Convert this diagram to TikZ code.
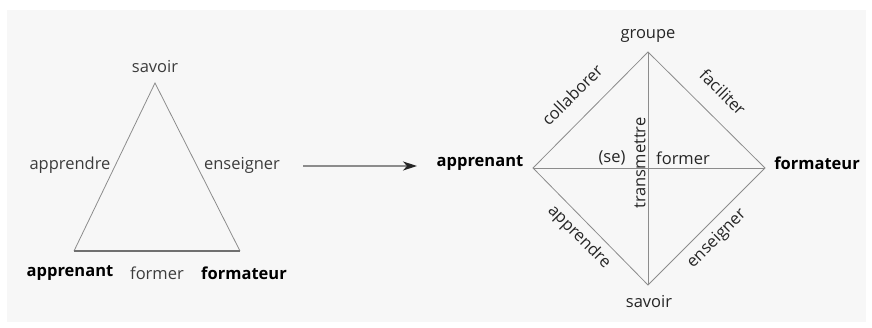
\documentclass[tikz,border=0pt]{standalone}
\usepackage{fontspec}
\setmainfont{Open Sans}
\usetikzlibrary{arrows.meta}
\definecolor{panel}{HTML}{F7F7F7}
\definecolor{edgegray}{HTML}{8C8C8C}
\definecolor{softtext}{HTML}{3C3C3C}
\tikzset{
  edge/.style={draw=edgegray, line width=0.8pt},
  lbl/.style={inner sep=0pt, font=\fontsize{16.5}{18}\selectfont, text=softtext},
  vlbl/.style={inner sep=0pt, font=\fontsize{16.5}{18}\selectfont\bfseries, text=black},
  dlbl/.style={inner sep=0pt, font=\fontsize{16.5}{18}\selectfont, text=black!85},
}
\begin{document}
\begin{tikzpicture}[x=1pt,y=1pt]
\useasboundingbox (0,0) rectangle (872,327);
\fill[panel] (7,5) rectangle (866,317);

% triangle: apprenant / savoir / formateur
\coordinate (tS) at (155,244);
\coordinate (tA) at (74,76);
\coordinate (tF) at (240,76);
\draw[edge] (tA) -- (tS) -- (tF);
\draw[edge, line width=1.3pt, draw=edgegray!80!black] (tA) -- (tF);
\node[lbl] (tsav) at (155,260) {savoir};
\node[lbl] (tapp) at (70,162) {apprendre};
\node[lbl] (tens) at (242,162) {enseigner};
\node[vlbl] (tappr) at (70,54) {apprenant};
\node[lbl] (tfor) at (157,54) {former};
\node[vlbl] (tform) at (244,54) {formateur};

% transition arrow
\coordinate (arA) at (303,161);
\coordinate (arB) at (417,161);
\draw[edge, line width=1.2pt, -{Stealth[length=14pt,width=9pt,inset=4pt,color=black!85]}] (arA) -- (arB);

% diamond: groupe / apprenant / formateur / savoir
\coordinate (dG) at (648,275);
\coordinate (dS) at (648,42);
\coordinate (dA) at (533,159);
\coordinate (dF) at (765,159);
\draw[edge] (dA) -- (dG) -- (dF) -- (dS) -- cycle;
\draw[edge] (dA) -- (dF);
\draw[edge] (dG) -- (dS);
\node[dlbl] (dgrp) at (648,291) {groupe};
\node[dlbl] (dsav) at (649,25) {savoir};
\node[vlbl] (dappr) at (480,164) {apprenant};
\node[vlbl] (dform) at (817,164) {formateur};
\node[dlbl, rotate=45] (dcol) at (572,232) {collaborer};
\node[dlbl, rotate=-45] (dfac) at (723,235) {faciliter};
\node[dlbl, rotate=-45] (dapp) at (579,90) {apprendre};
\node[dlbl, rotate=45] (dens) at (717,88) {enseigner};
\node[dlbl, rotate=90] (dtra) at (640,164) {transmettre};
\node[dlbl] (dse) at (612,169) {(se)};
\node[dlbl] (dfor) at (683,169) {former};
\end{tikzpicture}
\end{document}
